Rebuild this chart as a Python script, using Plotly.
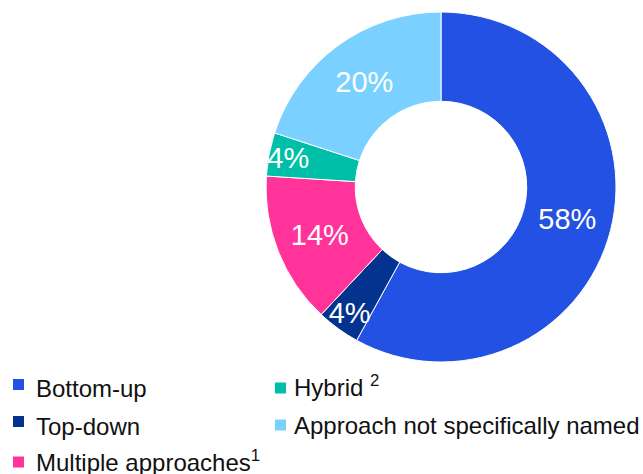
import plotly.graph_objects as go

# Survey shares by approach
categories = ["Bottom-up", "Top-down", "Multiple approaches", "Hybrid", "Approach not specifically named"]
legend_labels = ["Bottom-up", "Top-down", "Multiple approaches<sup>1</sup>", "Hybrid <sup>2</sup>",
                 "Approach not specifically named"]
shares = [58, 4, 14, 4, 20]
colors = ["#2251E3", "#04338F", "#FF3399", "#00BFA8", "#7AD1FF"]

W, H = 643, 474
FONT = "Liberation Sans, Arial, sans-serif"

fig = go.Figure(
    go.Pie(
        labels=categories,
        values=shares,
        marker=dict(colors=colors, line=dict(color="white", width=1)),
        hole=0.49,
        sort=False,
        direction="clockwise",
        rotation=0,
        texttemplate="%{value}%",
        textposition="inside",
        insidetextorientation="horizontal",
        textfont=dict(family=FONT, size=29, color="white"),
        showlegend=False,
        hoverinfo="label+value",
        domain=dict(x=[266 / W, 616 / W], y=[(H - 362) / H, (H - 12) / H]),
    )
)

# Two-column legend: (column, row) for each category
legend_slots = [(0, 0), (0, 1), (0, 2), (1, 0), (1, 1)]
col_marker_x = [13, 275]
col_text_x = [34, 292]
marker_y = [[384.5, 421.5, 462], [388, 425]]
# label centres; superscripts make the text box a little taller
text_y = [[388, 426, 461], [386, 425]]
shapes, annotations = [], []
for label, color, (c, r) in zip(legend_labels, colors, legend_slots):
    x0 = col_marker_x[c]
    ym = marker_y[c][r]
    shapes.append(dict(type="rect", xref="paper", yref="paper",
                       x0=x0 / W, x1=(x0 + 11) / W,
                       y0=(H - (ym + 5.5)) / H, y1=(H - (ym - 5.5)) / H,
                       fillcolor=color, line=dict(width=0)))
    annotations.append(dict(xref="paper", yref="paper", x=col_text_x[c] / W, y=(H - text_y[c][r]) / H,
                            xanchor="left", yanchor="middle", showarrow=False,
                            text=label, font=dict(family=FONT, size=24, color="#111111")))

fig.update_layout(
    width=W, height=H,
    margin=dict(l=0, r=0, t=0, b=0),
    paper_bgcolor="white", plot_bgcolor="white",
    uniformtext=dict(minsize=29, mode="show"),
    shapes=shapes, annotations=annotations,
)

fig.write_html("out.html")
